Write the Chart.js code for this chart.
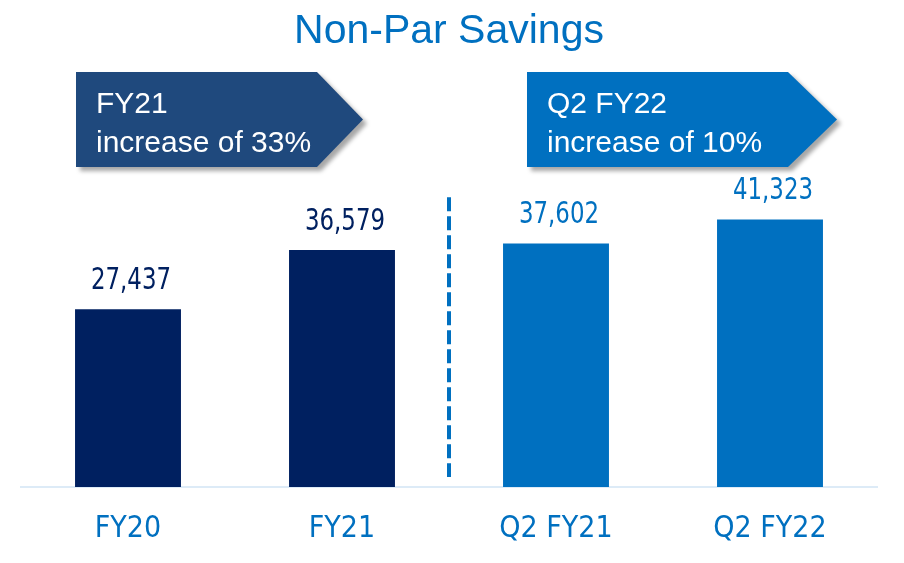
<!DOCTYPE html>
<html>
<head>
<meta charset="utf-8">
<title>Non-Par Savings</title>
<script src="https://cdn.jsdelivr.net/npm/chart.js@4/dist/chart.umd.min.js"></script>
<style>
  html, body { margin: 0; padding: 0; background: #ffffff; }
  #wrap { width: 904px; height: 563px; position: relative; }
</style>
</head>
<body>
<div id="wrap"><canvas id="savingsChart"></canvas></div>
<script>
// ── Data ────────────────────────────────────────────────────
const categories = ["FY20", "FY21", "Q2 FY21", "Q2 FY22"];
const savings = [27437, 36579, 37602, 41323];
const barColors = ["#002060", "#002060", "#0070C0", "#0070C0"];
const callouts = [
  { lines: ["FY21", "increase of 33%"], fill: "#1F497D" },
  { lines: ["Q2 FY22", "increase of 10%"], fill: "#0070C0" },
];

const NARROW = "'Liberation Sans Narrow', 'DejaVu Sans Condensed', 'Arial Narrow', sans-serif";
const REGULAR = "'Liberation Sans', Arial, sans-serif";

// ── Value labels above each bar (squeezed a little horizontally) ──
const valueLabels = {
  id: "valueLabels",
  afterDatasetsDraw(chart) {
    const { ctx } = chart;
    const meta = chart.getDatasetMeta(0);
    const squeeze = 0.82;
    ctx.save();
    ctx.font = "31px " + NARROW;
    ctx.textAlign = "center";
    ctx.textBaseline = "alphabetic";
    meta.data.forEach((bar, i) => {
      ctx.save();
      ctx.translate(bar.x + 3, bar.y - 20);
      ctx.scale(squeeze, 1);
      ctx.fillStyle = barColors[i];
      ctx.fillText(savings[i].toLocaleString("en-US"), 0, 0);
      ctx.restore();
    });
    ctx.restore();
  },
};

// ── Dashed divider between full-year and quarter bars ───────
const divider = {
  id: "divider",
  afterDatasetsDraw(chart) {
    const { ctx, chartArea } = chart;
    const x = chart.scales.x;
    const mid = (x.getPixelForValue(1) + x.getPixelForValue(2)) / 2;
    ctx.save();
    ctx.strokeStyle = "#0070C0";
    ctx.lineWidth = 4;
    ctx.setLineDash([14, 5]);
    ctx.beginPath();
    ctx.moveTo(mid, chartArea.top + 34);
    ctx.lineTo(mid, chartArea.bottom - 10);
    ctx.stroke();
    ctx.restore();
  },
};

// ── Arrow callouts ──────────────────────────────────────────
const arrowCallouts = {
  id: "arrowCallouts",
  afterDraw(chart) {
    const { ctx } = chart;
    const boxes = [
      { left: 76, right: 317, tip: 363 },
      { left: 527, right: 788, tip: 837 },
    ];
    const top = 72, bottom = 167, mid = (top + bottom) / 2;
    boxes.forEach((b, i) => {
      ctx.save();
      ctx.shadowColor = "rgba(0,0,0,0.35)";
      ctx.shadowBlur = 4;
      ctx.shadowOffsetX = 4;
      ctx.shadowOffsetY = 4;
      ctx.fillStyle = callouts[i].fill;
      ctx.beginPath();
      ctx.moveTo(b.left, top);
      ctx.lineTo(b.right, top);
      ctx.lineTo(b.tip, mid);
      ctx.lineTo(b.right, bottom);
      ctx.lineTo(b.left, bottom);
      ctx.closePath();
      ctx.fill();
      ctx.restore();

      ctx.save();
      ctx.fillStyle = "#ffffff";
      ctx.font = "30px " + REGULAR;
      ctx.textBaseline = "alphabetic";
      ctx.fillText(callouts[i].lines[0], b.left + 20, 113);
      ctx.fillText(callouts[i].lines[1], b.left + 20, 152);
      ctx.restore();
    });
  },
};

// ── Chart ───────────────────────────────────────────────────
const ctx = document.getElementById("savingsChart").getContext("2d");
new Chart(ctx, {
  type: "bar",
  data: {
    labels: categories,
    datasets: [{
      data: savings,
      backgroundColor: barColors,
      borderWidth: 0,
      barPercentage: 0.495,
      categoryPercentage: 1,
    }],
  },
  options: {
    responsive: true,
    maintainAspectRatio: false,
    animation: false,
    layout: { padding: { top: 0, left: 21, right: 27, bottom: 0 } },
    plugins: {
      legend: { display: false },
      tooltip: { enabled: false },
      title: {
        display: true,
        text: "Non-Par Savings",
        color: "#0070C0",
        font: { family: REGULAR, size: 41, weight: "normal" },
        padding: { top: 7, bottom: 107 },
      },
    },
    scales: {
      x: {
        grid: { display: false, drawTicks: false },
        border: { display: true, color: "#DDEBF7", width: 2 },
        ticks: {
          color: "#0070C0",
          padding: 24,
          font: { family: NARROW, size: 30 },
        },
        afterFit(scale) { scale.height = 76; },
      },
      y: {
        display: false,
        min: 0,
        max: 50000,
      },
    },
  },
  plugins: [valueLabels, divider, arrowCallouts],
});
</script>
</body>
</html>
